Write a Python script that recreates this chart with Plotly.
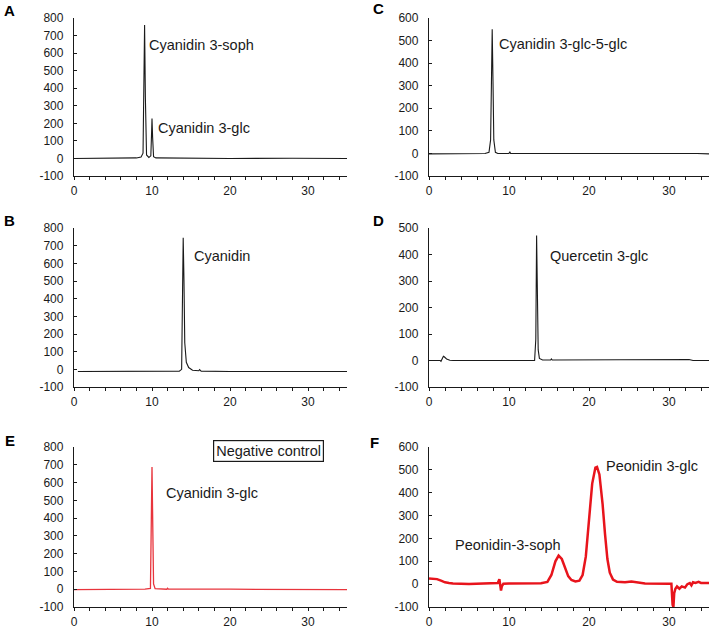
import plotly.graph_objects as go

# ---------------- data ----------------
A_t = [0.0, 6.0, 8.0, 8.6, 8.85, 8.95, 9.05, 9.15, 9.3, 9.6, 9.85, 9.95, 10.0, 10.08, 10.2, 10.5, 13.9, 14.0, 14.1, 20.0, 28.0, 35.0]
A_y = [0, 0, 3, 8, 30, 400, 760, 350, 20, 6, 15, 150, 228, 120, 10, 3, 1, 5, 1, 0, 1, 0]

B_t = [0.5, 10.0, 13.5, 13.8, 13.9, 14.0, 14.1, 14.2, 14.4, 14.7, 15.2, 16.0, 16.1, 16.3, 20.0, 27.3, 27.6, 28.0, 35.0]
B_y = [-12, -12, -10, 0, 300, 745, 500, 150, 40, 10, -5, -8, -2, -10, -12, -12, -8, -12, -12]

C_t = [0.0, 7.0, 7.5, 7.7, 7.8, 7.9, 8.0, 8.1, 8.3, 8.6, 10.0, 10.1, 10.2, 20.0, 27.5, 28.0, 32.5, 33.0, 33.5, 35.0]
C_y = [-2, 0, 5, 60, 300, 550, 320, 60, 5, 0, 0, 8, 0, 0, 0, 2, 0, 3, 0, -2]

D_t = [0.0, 1.4, 1.5, 1.6, 1.8, 1.9, 2.2, 2.6, 3.0, 13.2, 13.35, 13.45, 13.55, 13.65, 13.8, 14.2, 15.2, 15.3, 15.4, 27.5, 32.5, 33.0, 35.0]
D_y = [0, 0, -3, 5, 16, 14, 6, 1, 0, 0, 80, 472, 300, 40, 8, 2, 2, 6, 2, 2, 4, 0, 0]

E_t = [0.0, 8.5, 9.0, 9.1, 9.8, 9.9, 10.0, 10.1, 10.2, 10.4, 11.9, 12.0, 12.1, 20.0, 35.0]
E_y = [-2, 0, 3, 0, 5, 300, 688, 350, 30, 3, 0, 5, 0, 0, -2]

F_t = [0.0, 0.5, 1.0, 1.5, 2.0, 2.5, 3.0, 5.0, 8.3, 8.6, 8.8, 8.9, 9.0, 9.1, 9.3, 10.0, 12.0, 14.0,
       14.8, 15.3, 15.8, 16.2, 16.6, 17.0, 17.4, 17.8, 18.3, 18.8, 19.2, 19.6, 20.0, 20.4, 20.8, 21.0,
       21.3, 21.7, 22.0, 22.3, 22.6, 23.0, 23.5, 24.5, 25.3, 26.0, 27.0, 30.0, 30.3, 30.45, 30.55, 30.65,
       30.8, 31.0, 31.3, 31.6, 32.0, 32.3, 32.6, 32.8, 33.0, 33.3, 33.7, 34.0, 35.0]
F_y = [25, 25, 22, 15, 8, 5, 3, 1, 2, 5, 22, 5, -28, -10, 2, 3, 2, 4,
       10, 40, 100, 125, 110, 70, 35, 18, 12, 15, 40, 120, 280, 440, 510, 513,
       480, 350, 220, 110, 50, 20, 10, 8, 12, 8, 3, 2, 2, -90, -100, -40,
       -20, -10, -20, -10, -15, 0, 5, -5, 8, 5, 10, 5, 5]

X_TICKS = [0, 10, 20, 30]
X_LABELS = ["0", "10", "20", "30"]
Y800_TICKS = [-100, 0, 100, 200, 300, 400, 500, 600, 700, 800]
Y800_LABELS = ["-100", "0", "100", "200", "300", "400", "500", "600", "700", "800"]
Y600_TICKS = [-100, 0, 100, 200, 300, 400, 500, 600]
Y600_LABELS = ["-100", "0", "100", "200", "300", "400", "500", "600"]
Y500_TICKS = [-100, 0, 100, 200, 300, 400, 500]
Y500_LABELS = ["-100", "0", "100", "200", "300", "400", "500"]

W, H = 713, 627
FONT = "Liberation Sans, Arial, sans-serif"
BLACK = "#1a1a1a"
RED_E = "#e8343c"
RED_F = "#e8141c"

def px(x):
    return x / W

def py(y):
    return 1 - y / H

fig = go.Figure()

panels = [
    (A_t, A_y, "", BLACK, 1.1),
    (C_t, C_y, "2", BLACK, 1.1),
    (B_t, B_y, "3", BLACK, 1.1),
    (D_t, D_y, "4", BLACK, 1.1),
    (E_t, E_y, "5", RED_E, 1.3),
    (F_t, F_y, "6", RED_F, 2.5),
]
for t, y, s, col, lw in panels:
    fig.add_trace(go.Scatter(x=t, y=y, mode="lines", line=dict(color=col, width=lw),
                             xaxis="x" + s, yaxis="y" + s, showlegend=False, hoverinfo="skip"))

left = [px(74), px(347)]
right = [px(429), px(709)]
top = [py(176), py(18)]
mid = [py(387), py(228)]
bot = [py(607), py(447)]

tickfont = dict(family=FONT, size=12, color=BLACK)

def xax(dom, anchor):
    return dict(domain=dom, anchor=anchor, range=[0, 35], showline=True, linecolor=BLACK,
                linewidth=1.3, showgrid=False, zeroline=False, ticks="outside", ticklen=3,
                tickwidth=1, tickcolor=BLACK, tickvals=X_TICKS, ticktext=X_LABELS,
                minor=dict(dtick=2, tick0=0, ticks="outside", ticklen=3, tickcolor=BLACK, tickwidth=1),
                tickfont=tickfont, ticklabelstandoff=0, automargin=False, fixedrange=True)

def yax(dom, anchor, rng, vals, labels):
    return dict(domain=dom, anchor=anchor, range=rng, showline=True, linecolor=BLACK,
                linewidth=1.3, showgrid=False, zeroline=False, ticks="inside", ticklen=3,
                tickwidth=1, tickcolor=BLACK, tickvals=vals, ticktext=labels,
                tickfont=tickfont, ticklabelstandoff=7, automargin=False, fixedrange=True)

fig.update_layout(
    width=W, height=H, margin=dict(l=0, r=0, t=0, b=0, autoexpand=False),
    paper_bgcolor="white", plot_bgcolor="white",
    xaxis=xax(left, "y"), yaxis=yax(top, "x", [-100, 800], Y800_TICKS, Y800_LABELS),
    xaxis2=xax(right, "y2"), yaxis2=yax(top, "x2", [-100, 600], Y600_TICKS, Y600_LABELS),
    xaxis3=xax(left, "y3"), yaxis3=yax(mid, "x3", [-100, 800], Y800_TICKS, Y800_LABELS),
    xaxis4=xax(right, "y4"), yaxis4=yax(mid, "x4", [-100, 500], Y500_TICKS, Y500_LABELS),
    xaxis5=xax(left, "y5"), yaxis5=yax(bot, "x5", [-100, 800], Y800_TICKS, Y800_LABELS),
    xaxis6=xax(right, "y6"), yaxis6=yax(bot, "x6", [-100, 600], Y600_TICKS, Y600_LABELS),
)

letters = [("A", 9, 10), ("C", 378, 9), ("B", 9, 220), ("D", 378, 220), ("E", 10, 440), ("F", 375, 442)]
for txt, x, y in letters:
    fig.add_annotation(text="<b>%s</b>" % txt, x=px(x), y=py(y), xref="paper", yref="paper",
                       showarrow=False, xanchor="center", yanchor="middle",
                       font=dict(family=FONT, size=15, color="black"))

labels = [
    ("Cyanidin 3-soph", 201, 45),
    ("Cyanidin 3-glc", 204, 128),
    ("Cyanidin 3-glc-5-glc", 563, 44),
    ("Cyanidin", 222, 256),
    ("Quercetin 3-glc", 599, 256),
    ("Cyanidin 3-glc", 212, 493),
    ("Peonidin 3-glc", 652, 466),
    ("Peonidin-3-soph", 508, 545),
]
for txt, x, y in labels:
    fig.add_annotation(text=txt, x=px(x), y=py(y), xref="paper", yref="paper",
                       showarrow=False, xanchor="center", yanchor="middle",
                       font=dict(family=FONT, size=14.5, color=BLACK))

fig.add_annotation(text="Negative control", x=px(268), y=py(451), xref="paper", yref="paper",
                   showarrow=False, xanchor="center", yanchor="middle",
                   bordercolor=BLACK, borderwidth=1.2, borderpad=2,
                   font=dict(family=FONT, size=14.5, color=BLACK))

fig.write_html("out.html", config={"displayModeBar": False},
               post_script="document.body.style.margin='0';document.body.style.overflow='hidden';")
